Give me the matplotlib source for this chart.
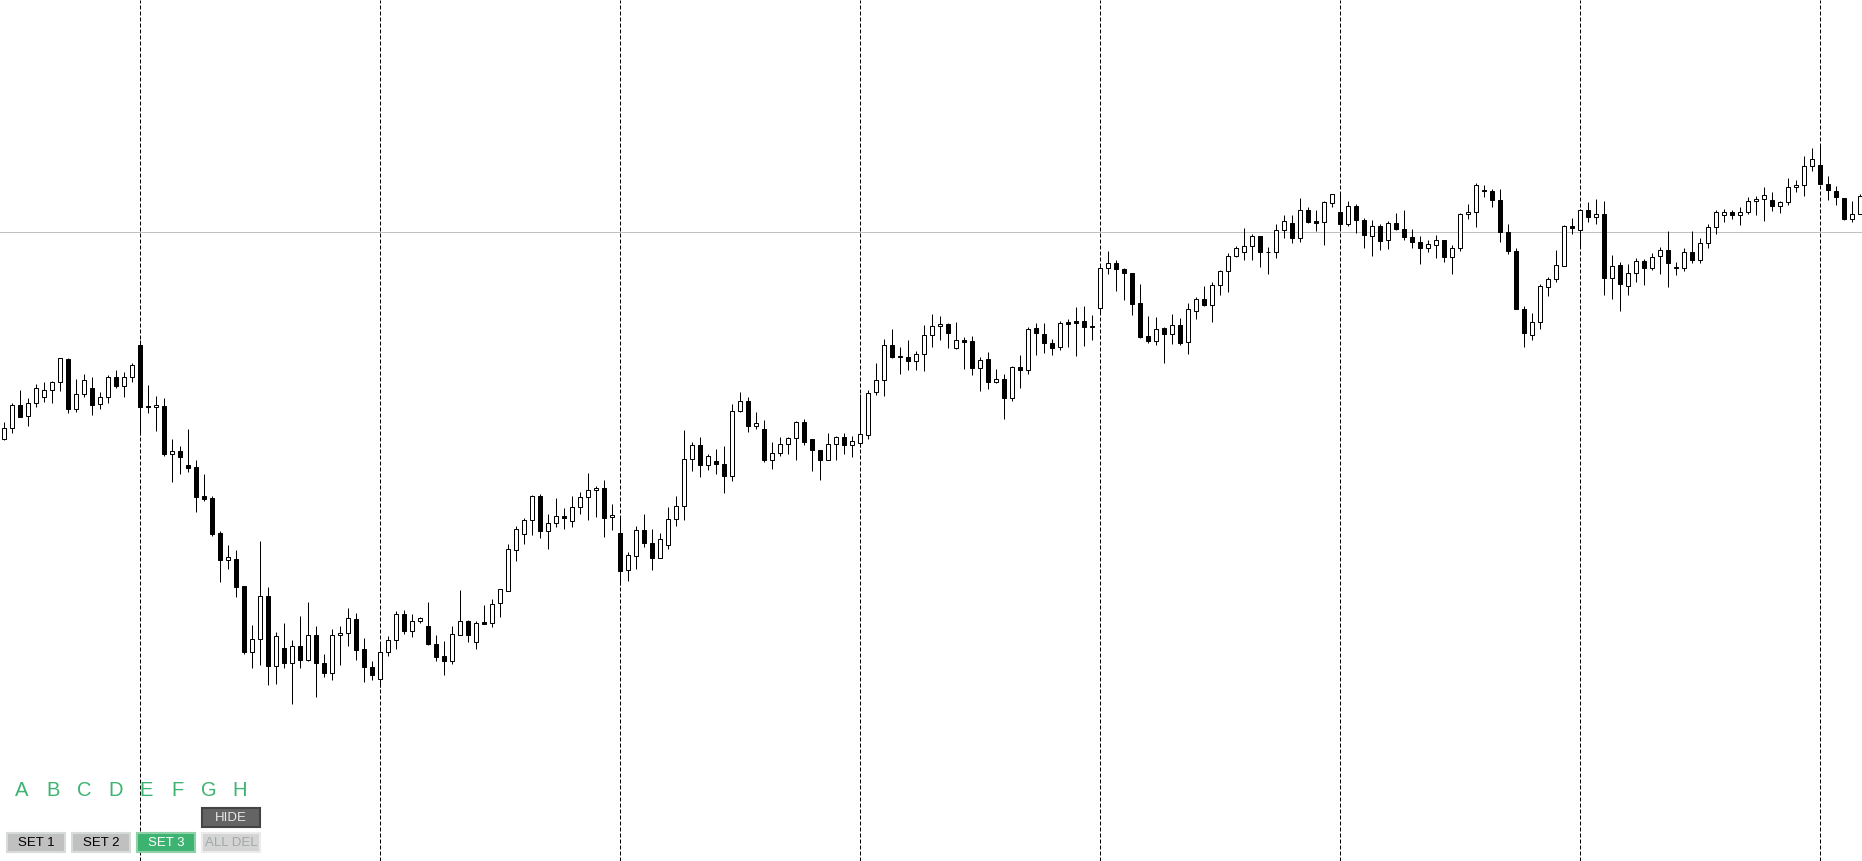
import matplotlib
matplotlib.use("Agg")
import matplotlib.pyplot as plt
import numpy as np
from matplotlib.patches import Rectangle

# OHLC values (arbitrary price units, one per bar)
opens = [
    422, 433, 456, 445, 458, 464, 471, 479, 502, 452,
    467, 473, 457, 464, 484, 475, 484, 516, 455, 454,
    455, 407, 410, 396, 394, 365, 363, 328, 301, 302,
    275, 209, 222, 265, 195, 213, 198, 215, 201, 226,
    198, 188, 226, 228, 242, 212, 194, 182, 209, 221,
    247, 230, 240, 235, 217, 205, 200, 226, 240, 219,
    239, 238, 258, 270, 311, 327, 341, 365, 330, 338,
    345, 340, 354, 364, 371, 373, 344, 328, 291, 305,
    331, 318, 303, 316, 342, 355, 402, 416, 396, 400,
    397, 385, 450, 460, 435, 432, 401, 408, 417, 423,
    439, 422, 411, 401, 417, 424, 416, 418, 426, 469,
    481, 516, 505, 504, 500, 507, 526, 535, 537, 513,
    521, 520, 493, 502, 479, 482, 463, 494, 491, 533,
    527, 518, 514, 539, 540, 540, 534, 553, 593, 598,
    592, 588, 558, 525, 520, 533, 527, 536, 519, 550,
    562, 556, 576, 590, 605, 609, 615, 625, 609, 609,
    631, 638, 623, 651, 640, 639, 658, 649, 637, 655,
    641, 625, 635, 621, 638, 632, 624, 619, 613, 616,
    621, 604, 613, 647, 649, 671, 670, 661, 629, 610,
    552, 526, 539, 574, 582, 595, 635, 631, 651, 644,
    647, 583, 596, 575, 588, 600, 593, 605, 611, 594,
    593, 609, 601, 618, 634, 646, 649, 646, 649, 660,
    662, 661, 655, 659, 674, 676, 695, 696, 677, 670,
    663, 642, 647,
]
highs = [
    439, 458, 471, 463, 477, 479, 480, 503, 503, 482,
    487, 484, 469, 486, 491, 489, 498, 521, 476, 465,
    463, 422, 415, 432, 401, 387, 365, 330, 316, 311,
    275, 236, 320, 274, 229, 238, 221, 245, 259, 235,
    207, 232, 235, 253, 248, 223, 200, 219, 225, 250,
    251, 247, 244, 259, 226, 220, 235, 271, 241, 240,
    256, 262, 272, 317, 335, 343, 366, 367, 347, 363,
    353, 365, 369, 388, 375, 381, 357, 345, 309, 335,
    347, 332, 328, 354, 365, 431, 419, 424, 407, 412,
    415, 457, 469, 464, 449, 441, 419, 424, 424, 440,
    442, 422, 411, 428, 425, 428, 425, 467, 471, 498,
    522, 532, 514, 521, 510, 536, 547, 545, 538, 539,
    524, 525, 504, 509, 492, 487, 495, 506, 534, 538,
    538, 522, 540, 542, 554, 555, 546, 597, 610, 601,
    593, 588, 577, 545, 544, 534, 547, 543, 558, 564,
    575, 579, 591, 608, 615, 633, 627, 625, 614, 637,
    646, 646, 663, 654, 651, 660, 667, 669, 660, 657,
    643, 641, 637, 640, 648, 651, 632, 625, 621, 626,
    621, 616, 648, 657, 678, 676, 672, 672, 637, 613,
    555, 548, 577, 584, 611, 636, 643, 652, 659, 662,
    660, 606, 599, 597, 603, 602, 608, 614, 630, 599,
    613, 630, 623, 637, 651, 652, 651, 654, 664, 665,
    674, 669, 660, 683, 681, 705, 713, 717, 685, 675,
    663, 660, 667,
]
lows = [
    421, 428, 444, 435, 454, 459, 458, 470, 448, 449,
    464, 446, 452, 458, 473, 464, 479, 426, 448, 430,
    405, 379, 387, 389, 349, 360, 325, 279, 292, 264,
    207, 193, 196, 176, 177, 193, 157, 193, 200, 164,
    184, 181, 196, 215, 201, 179, 181, 174, 205, 212,
    227, 224, 238, 216, 200, 186, 197, 226, 219, 212,
    237, 234, 244, 270, 300, 317, 326, 323, 312, 334,
    332, 334, 347, 341, 344, 324, 331, 276, 280, 292,
    314, 291, 303, 312, 335, 341, 390, 384, 391, 387,
    368, 380, 449, 429, 432, 399, 392, 405, 407, 401,
    416, 390, 381, 401, 401, 407, 404, 414, 422, 466,
    465, 503, 487, 491, 491, 490, 514, 521, 513, 512,
    492, 486, 470, 472, 478, 442, 460, 473, 487, 506,
    508, 506, 511, 514, 505, 515, 521, 547, 587, 570,
    561, 546, 523, 518, 516, 498, 517, 516, 507, 542,
    555, 539, 566, 569, 604, 601, 601, 594, 587, 603,
    623, 618, 619, 638, 630, 616, 654, 631, 635, 628,
    613, 605, 611, 612, 631, 621, 613, 597, 609, 603,
    599, 587, 610, 642, 634, 664, 654, 619, 607, 552,
    514, 521, 532, 565, 579, 595, 627, 613, 639, 637,
    566, 562, 550, 566, 579, 576, 591, 587, 574, 586,
    590, 598, 598, 613, 627, 639, 642, 636, 647, 646,
    640, 650, 648, 656, 669, 665, 690, 677, 661, 656,
    641, 639, 647,
]
closes = [
    433, 456, 444, 458, 473, 471, 479, 503, 452, 467,
    481, 456, 464, 484, 475, 484, 496, 454, 454, 456,
    407, 410, 404, 393, 364, 362, 327, 301, 304, 274,
    209, 222, 265, 195, 225, 198, 215, 201, 226, 198,
    188, 226, 228, 243, 211, 194, 186, 209, 221, 247,
    230, 240, 243, 217, 204, 200, 227, 240, 226, 238,
    237, 257, 272, 312, 332, 341, 365, 330, 338, 345,
    343, 354, 364, 371, 373, 343, 346, 290, 306, 331,
    318, 303, 322, 342, 355, 402, 416, 396, 405, 397,
    385, 450, 460, 435, 438, 401, 408, 417, 423, 439,
    419, 411, 401, 417, 424, 416, 420, 427, 468, 481,
    516, 504, 504, 500, 507, 526, 535, 537, 528, 521,
    519, 493, 501, 479, 482, 463, 494, 491, 532, 528,
    518, 513, 538, 537, 538, 534, 535, 593, 598, 592,
    588, 557, 524, 520, 532, 527, 536, 518, 552, 562,
    556, 576, 590, 605, 613, 615, 625, 609, 609, 631,
    640, 623, 651, 639, 638, 659, 667, 637, 655, 641,
    626, 635, 620, 638, 632, 624, 619, 613, 617, 621,
    604, 613, 647, 649, 676, 670, 661, 629, 610, 552,
    528, 539, 575, 582, 596, 635, 633, 651, 644, 647,
    583, 595, 577, 588, 600, 593, 604, 611, 598, 593,
    609, 601, 618, 634, 649, 649, 646, 649, 660, 662,
    666, 655, 659, 674, 676, 695, 702, 677, 671, 664,
    642, 647, 665,
]

level_price = 629          # grey horizontal level
first_separator = 17       # bar index of the first period separator
bars_per_period = 30

letters = ["A", "B", "C", "D", "E", "F", "G", "H"]
set_buttons = ["SET 1", "SET 2", "SET 3", "ALL DEL"]

W, H = 1862, 861
GREEN = "#3cb371"
PX = 72 / 100  # one pixel in points

o = np.array(opens, float)
c = np.array(closes, float)
hi = np.array(highs, float)
lo = np.array(lows, float)
x = np.arange(len(o))
up = c >= o

fig = plt.figure(figsize=(W / 100, H / 100), dpi=100)
ax = fig.add_axes([0, 0, 1, 1])
ax.set_axis_off()
ax.set_xlim(-0.5, (W - 4) / 8)
ax.set_ylim(0, H)

# level line and period separators
ax.axhline(level_price, color="#c0c0c0", lw=PX, zorder=0)
for sx in range(first_separator, len(o), bars_per_period):
    ax.axvline(sx, color="black", lw=PX, ls=(0, (4, 2)), zorder=1)

# candles
ax.vlines(x, lo, hi, color="black", lw=PX, zorder=2)
body = np.where(np.abs(c - o) < 0.01, 0.01, c - o)
ax.bar(x[up], body[up], bottom=o[up], width=0.5, color="white",
       edgecolor="black", lw=PX, zorder=3)
ax.bar(x[~up], body[~up], bottom=o[~up], width=0.5, color="black",
       edgecolor="black", lw=PX, zorder=3)

# panel of letters and buttons, laid out in pixels
ui = fig.add_axes([0, 0, 1, 1])
ui.set_axis_off()
ui.set_xlim(0, W)
ui.set_ylim(H, 0)
ui.patch.set_alpha(0)

for i, ch in enumerate(letters):
    ui.text(22 + 31.1 * i, 790, ch, color=GREEN, fontsize=14.5,
            family="Liberation Sans", ha="center", va="center")


def button(x0, y0, label, face, edge, tcolor):
    ui.add_patch(Rectangle((x0, y0), 58, 19, facecolor=face, edgecolor=edge,
                           lw=1.5))
    ui.text(x0 + 29, y0 + 10, label, color=tcolor, fontsize=9.5,
            family="Liberation Sans", ha="center", va="center")


button(202, 808, "HIDE", "#646464", "#444444", "#e8e8e8")
styles = [("#c0c0c0", "#d8dcd8", "black"),
          ("#c0c0c0", "#d8dcd8", "black"),
          (GREEN, "#8fd0a8", "white"),
          ("#d4d4d4", "#ebebeb", "#a0a8a8")]
for i, (lab, st) in enumerate(zip(set_buttons, styles)):
    button(7 + 65 * i, 833, lab, *st)

fig.savefig("out.png", dpi=100)
